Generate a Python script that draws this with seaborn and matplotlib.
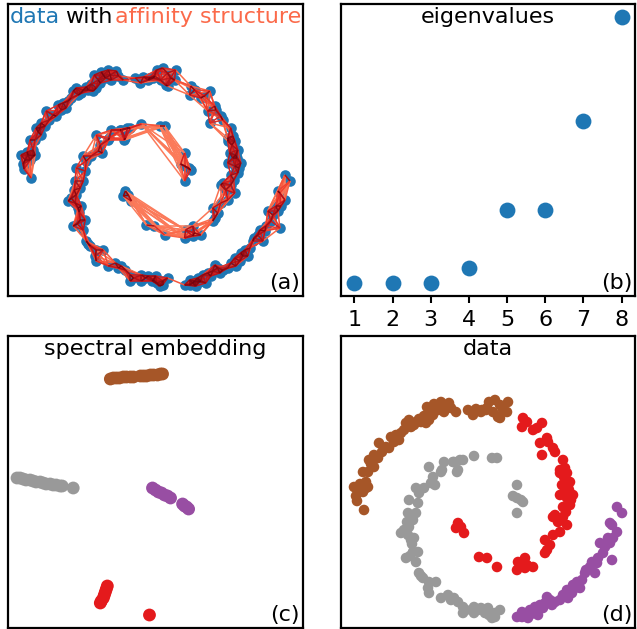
import numpy as np
import pandas as pd
import matplotlib
matplotlib.use('Agg')
import matplotlib.pyplot as plt
import seaborn as sns
from matplotlib.collections import LineCollection

# data points, grouped by cluster
brown_pts = [(-59, 75), (-52, 78), (-45, 80), (-43, 75), (-37, 79), (-35, 74), (-30, 70), (-42, 70),
             (-48, 72), (-53, 67), (-57, 62), (-60, 59), (-65, 60), (-70, 60), (-77, 62), (-80, 59),
             (-75, 55), (-82, 52), (-85, 49), (-90, 47), (-95, 45), (-92, 40), (-87, 42), (-97, 34),
             (-107, 39), (-112, 27), (-113, 22), (-108, 24), (-117, 22), (-112, 15), (-118, 10),
             (-123, 10), (-120, 0), (-125, -5), (-120, -6), (-132, -5), (-128, -10), (-123, -10),
             (-118, -5), (-129, -19), (-122, -28), (-72, 57), (-67, 63), (-62, 66), (-55, 70),
             (-50, 75), (-100, 35), (-104, 30), (-115, 18), (-126, -2), (-130, -14),
             (-18, 72), (-13, 67), (-10, 73), (-5, 70), (0, 72), (3, 80), (9, 82), (14, 77),
             (22, 80), (21, 70), (12, 65), (7, 70), (1, 74), (17, 72), (14, 64), (-4, 72)]
grey_pts = [(-57, 15), (-45, 10), (-42, 20), (-32, 20), (-28, 12), (-23, 22), (-12, 26), (6, 24),
            (11, 24), (-53, 5), (-55, -1), (-62, -6), (-70, -6), (-67, -11), (-77, -18), (-68, -21),
            (-44, 12), (-51, -3), (-33, 20), (-26, 22), (-29, 10),
            (31, -3), (27, -14), (31, -16), (35, -18), (37, -20), (31, -31),
            (-78, -31), (-70, -31), (-73, -38), (-77, -45), (-85, -51), (-78, -53), (-72, -56),
            (-75, -58), (-73, -70), (-68, -70), (-80, -76), (-70, -80), (-67, -91), (-63, -96),
            (-57, -100), (-50, -100), (-58, -106), (-57, -111), (-45, -116), (-38, -113),
            (-32, -116), (-28, -120), (-23, -125), (-23, -131), (-12, -125), (-12, -131),
            (-5, -126), (0, -130), (3, -133), (2, -126), (9, -131), (14, -128), (6, -136),
            (9, -135), (-1, -131), (-82, -48), (-79, -40), (-74, -62), (-76, -74), (-65, -94),
            (-35, -118), (-20, -128), (-8, -128)]
red_pts = [(37, 64), (36, 55), (41, 60), (47, 52), (51, 54), (56, 59), (61, 44), (54, 39), (62, 40),
           (67, 34), (69, 30), (56, 27), (77, 22), (74, 12), (79, 14), (81, 9), (74, 9), (84, 0),
           (76, -3), (79, -8), (87, -13), (74, -13), (81, -16), (77, -25), (84, -23), (77, -35),
           (69, -33), (81, -43), (74, -50), (67, -53), (64, -63), (61, -68), (59, -71), (59, -58),
           (67, -35), (82, -5), (85, -18), (78, 5), (72, -40), (80, -30), (83, -8),
           (39, -76), (32, -80), (41, -83), (47, -85), (31, -88), (39, -86), (1, -76), (11, -85),
           (-7, -75), (-28, -41), (-25, -45), (-30, -46), (-22, -51)]
purple_pts = [(131, -25), (136, -31), (126, -43), (131, -50), (127, -56), (122, -56), (114, -61),
              (124, -61), (117, -71), (126, -78), (112, -76), (106, -80), (111, -81), (104, -85),
              (109, -91), (99, -91), (96, -98), (91, -100), (87, -103), (94, -106), (86, -111),
              (81, -108), (77, -113), (82, -116), (74, -118), (69, -120), (64, -118), (61, -115),
              (59, -121), (54, -123), (57, -126), (49, -125), (44, -128), (47, -131), (41, -131),
              (36, -130), (36, -135), (31, -135), (42, -136), (52, -133), (124, -41), (119, -65),
              (100, -88), (89, -106), (66, -123), (39, -133), (45, -132)]

# spectral embedding (first two eigenvectors), per cluster
emb_brown = [(-43, 103), (-40, 104), (-37, 104), (-34, 104), (-30, 105), (-27, 105), (-23, 105),
             (-20, 105), (-13, 106), (-10, 106), (-7, 106), (-3, 107), (0, 107), (4, 107), (7, 108), (9, 108)]
emb_grey = [(-136, 4), (-133, 4), (-130, 3), (-127, 2), (-123, 2), (-120, 1), (-117, 0), (-113, 0),
            (-110, -1), (-107, -2), (-103, -2), (-100, -3), (-97, -3), (-93, -4), (-91, -4), (-80, -6)]
emb_purple = [(-1, -6), (2, -8), (5, -10), (8, -11), (11, -13), (14, -14), (17, -16),
              (29, -22), (31, -24), (33, -25), (35, -27)]
emb_red = [(-46, -104), (-47, -107), (-48, -110), (-49, -113), (-50, -116), (-52, -119), (-53, -121),
           (-4, -133)]

# eigenvalues
eig_idx = [1, 2, 3, 4, 5, 6, 7, 8]
eig_vals = [0.0, 0.0, 0.0, 0.011, 0.055, 0.055, 0.122, 0.2]

palette = {'brown': '#a65628', 'grey': '#999999', 'red': '#e41a1c', 'purple': '#984ea3'}


def to_df(groups):
    rows = []
    for name, pts in groups.items():
        for x, y in pts:
            rows.append((x, y, name))
    return pd.DataFrame(rows, columns=['x', 'y', 'cluster'])


data_df = to_df({'brown': brown_pts, 'grey': grey_pts, 'red': red_pts, 'purple': purple_pts})
emb_df = to_df({'brown': emb_brown, 'grey': emb_grey, 'red': emb_red, 'purple': emb_purple})

sns.set_style('white')
plt.rcParams['font.family'] = ['DejaVu Sans']
plt.rcParams['text.color'] = 'black'
plt.rcParams['xtick.color'] = 'black'
plt.rcParams['xtick.labelcolor'] = 'black'

fig = plt.figure(figsize=(6.37, 6.29), dpi=100)
W, H = 637, 629


def add_ax(l, t, r, b):
    return fig.add_axes([l / W, 1 - b / H, (r - l) / W, (b - t) / H])


ax_a = add_ax(8, 4, 303, 296)
ax_b = add_ax(341, 4, 635, 296)
ax_c = add_ax(8, 336, 303, 628)
ax_d = add_ax(341, 336, 635, 628)

FS = 16
XL, YL = (-145, 149), (-146, 146)

# (a) data with affinity structure (kNN graph inside each spiral arm)
sns.scatterplot(data=data_df, x='x', y='y', color='#1f77b4', s=58, linewidth=0, ax=ax_a, zorder=2)
segs, dists = [], []
for arm in [brown_pts + red_pts, grey_pts + purple_pts]:
    P = np.array(arm, dtype=float)
    D = np.hypot(P[:, None, 0] - P[None, :, 0], P[:, None, 1] - P[None, :, 1])
    pairs = set()
    for i in range(len(P)):
        for j in np.argsort(D[i])[1:9]:
            pairs.add((min(i, j), max(i, j)))
    for i, j in pairs:
        segs.append([P[i], P[j]])
        dists.append(D[i, j])
dists = np.array(dists)
order = np.argsort(-dists)
w = np.exp(-(dists[order] / 14.0) ** 2)
lc = LineCollection([segs[k] for k in order], colors=plt.cm.Reds(0.45 + 0.55 * w), linewidths=1.1, zorder=3)
ax_a.add_collection(lc)

t1 = ax_a.text(0.007, 0.99, 'data', color='#1f77b4', fontsize=FS, ha='left', va='top',
               transform=ax_a.transAxes)
t2 = ax_a.annotate('with', xy=(1, 0), xycoords=t1, xytext=(3.5, 0), textcoords='offset points',
                   color='black', fontsize=FS, ha='left', va='bottom')
ax_a.annotate('affinity structure', xy=(1, 0), xycoords=t2, xytext=(1.5, 0), textcoords='offset points',
              color='#fb6a4a', fontsize=FS, ha='left', va='bottom')

# (b) eigenvalues
sns.scatterplot(x=eig_idx, y=eig_vals, color='#1f77b4', s=130, linewidth=0, ax=ax_b)
ax_b.set_xticks(eig_idx)
ax_b.set_yticks([])
ax_b.tick_params(axis='x', bottom=True, length=5, width=1.5, pad=5, labelsize=FS, colors='black')
ax_b.text(0.5, 0.99, 'eigenvalues', fontsize=FS, ha='center', va='top', transform=ax_b.transAxes)

# (c) spectral embedding
sns.scatterplot(data=emb_df, x='x', y='y', hue='cluster', palette=palette, s=85, linewidth=0,
                legend=False, ax=ax_c)
ax_c.text(0.5, 0.99, 'spectral embedding', fontsize=FS, ha='center', va='top', transform=ax_c.transAxes)

# (d) data coloured by cluster
sns.scatterplot(data=data_df, x='x', y='y', hue='cluster', palette=palette, s=58, linewidth=0,
                legend=False, ax=ax_d)
ax_d.text(0.5, 0.99, 'data', fontsize=FS, ha='center', va='top', transform=ax_d.transAxes)

for ax, lab in zip([ax_a, ax_b, ax_c, ax_d], ['(a)', '(b)', '(c)', '(d)']):
    ax.set_xlabel('')
    ax.set_ylabel('')
    if ax is not ax_b:
        ax.set_xlim(XL)
        ax.set_ylim(YL)
        ax.set_xticks([])
        ax.set_yticks([])
    for sp in ax.spines.values():
        sp.set_color('black')
        sp.set_linewidth(1.6)
    ax.text(0.99, 0.01, lab, fontsize=FS, ha='right', va='bottom', transform=ax.transAxes)

plt.savefig('out.png', dpi=100)
plt.close()
